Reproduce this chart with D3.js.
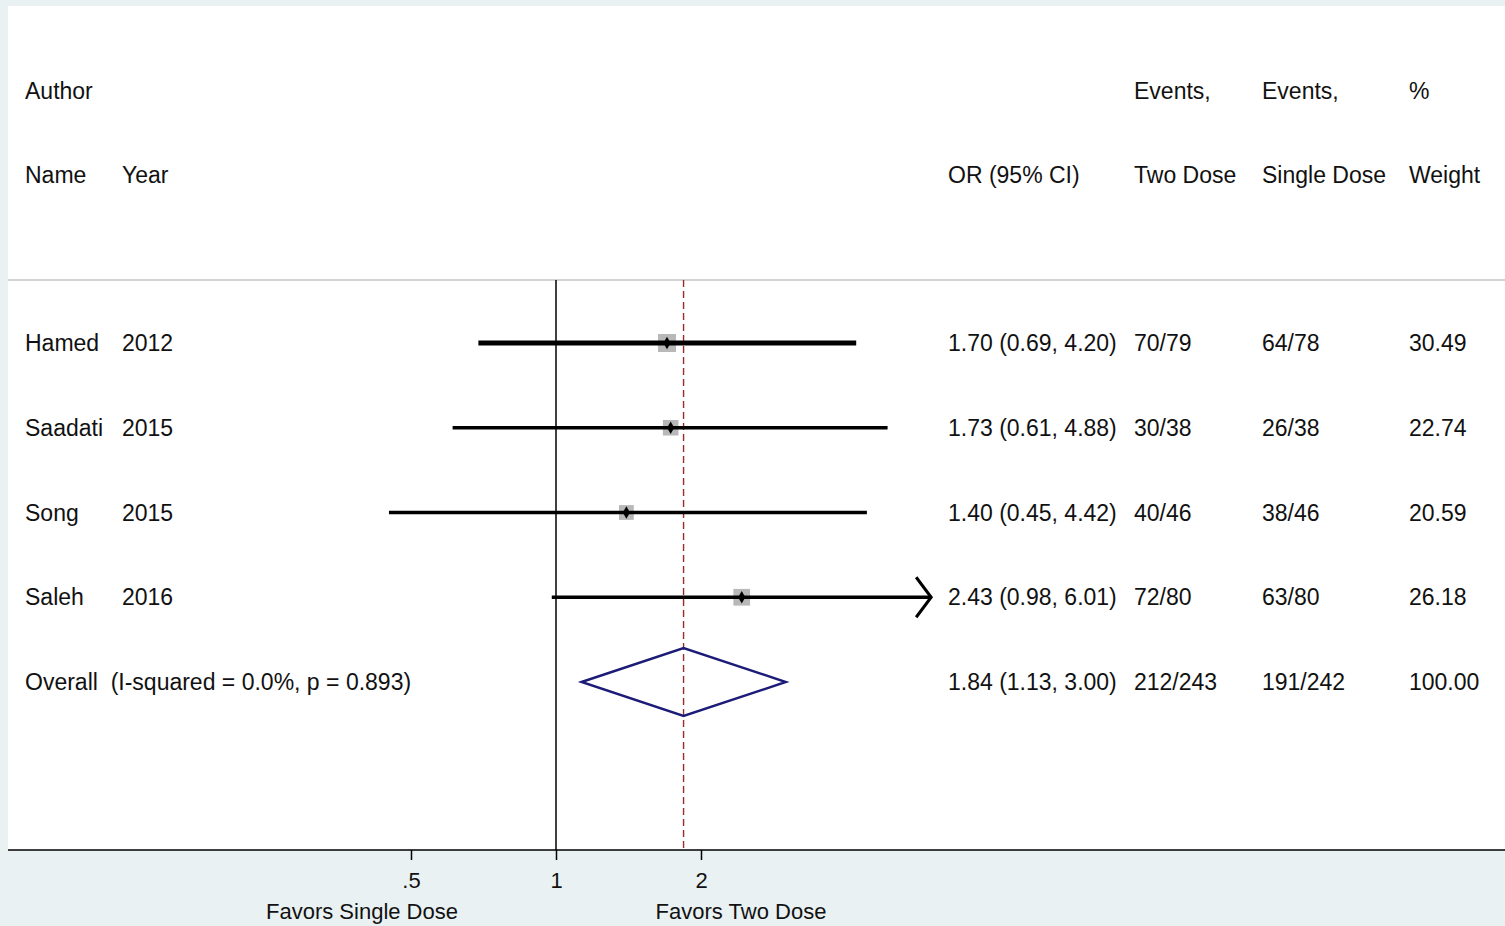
<!DOCTYPE html>
<html>
<head>
<meta charset="utf-8">
<script src="https://cdn.jsdelivr.net/npm/d3@7"></script>
<style>
  body { margin: 0; background: #e9f1f3; }
  svg { display: block; font-family: "Liberation Sans", Arial, sans-serif; }
</style>
</head>
<body>
<div id="chart"></div>
<script>
// Data
const authors = ['Hamed', 'Saadati', 'Song', 'Saleh']
const years = ['2012', '2015', '2015', '2016']
const orVals = [1.70, 1.73, 1.40, 2.43]
const ciLow = [0.69, 0.61, 0.45, 0.98]
const ciHigh = [4.20, 4.88, 4.42, 6.01]
const eventsTwo = ['70/79', '30/38', '40/46', '72/80']
const eventsSingle = ['64/78', '26/38', '38/46', '63/80']
const weights = [30.49, 22.74, 20.59, 26.18]
const overall = { or: 1.84, lo: 1.13, hi: 3.00, two: '212/243', single: '191/242', weight: 100.00, i2: '0.0%', p: '0.893' }
const tickVals = [0.5, 1, 2]
const tickLabels = ['.5', '1', '2']
const xMax = 6.01 // right end of the plot range, wider CIs get an arrow

const width = 1505, height = 926
const panel = { left: 8, top: 6, right: 1505, bottom: 850 }
const headerLine = 280
const textColor = '#111'
const fontSize = 23

const svg = d3.select('#chart').append('svg')
  .attr('width', width)
  .attr('height', height)

svg.append('rect')
  .attr('x', panel.left).attr('y', panel.top)
  .attr('width', panel.right - panel.left)
  .attr('height', panel.bottom - panel.top)
  .attr('fill', '#fff')

// Scales
const xScale = d3.scaleLog().domain([0.5, 2]).range([411, 701])
const rows = d3.range(authors.length + 1)
const yScale = d3.scalePoint().domain(rows).range([343, 682])

// Header
const cols = { name: 25, year: 122, or: 948, two: 1134, single: 1262, weight: 1409 }
const header1 = [['Author', cols.name], ['Events,', cols.two], ['Events,', cols.single], ['%', cols.weight]]
const header2 = [['Name', cols.name], ['Year', cols.year], ['OR (95% CI)', cols.or], ['Two Dose', cols.two], ['Single Dose', cols.single], ['Weight', cols.weight]]

const hdr = svg.append('g').attr('fill', textColor).attr('font-size', fontSize)
hdr.selectAll('.h1').data(header1).join('text')
  .attr('x', d => d[1]).attr('y', 91).attr('dy', '0.35em').text(d => d[0])
hdr.selectAll('.h2').data(header2).join('text')
  .attr('x', d => d[1]).attr('y', 175).attr('dy', '0.35em').text(d => d[0])

svg.append('line')
  .attr('x1', panel.left).attr('x2', panel.right)
  .attr('y1', headerLine).attr('y2', headerLine)
  .attr('stroke', '#c4c4c4').attr('stroke-width', 1.5)

// Null line and overall line
svg.append('line')
  .attr('x1', xScale(1)).attr('x2', xScale(1))
  .attr('y1', headerLine).attr('y2', panel.bottom)
  .attr('stroke', '#000').attr('stroke-width', 1.5)

svg.append('line')
  .attr('x1', xScale(overall.or)).attr('x2', xScale(overall.or))
  .attr('y1', headerLine).attr('y2', panel.bottom)
  .attr('stroke', '#9b2a2a').attr('stroke-width', 1.4)
  .attr('stroke-dasharray', '7,4')

// Study rows
const studies = authors.map((a, i) => ({
  author: a, year: years[i], or: orVals[i], lo: ciLow[i], hi: ciHigh[i],
  two: eventsTwo[i], single: eventsSingle[i], weight: weights[i], row: i
}))

const boxScale = d3.scaleSqrt().domain([0, d3.max(weights)]).range([0, 18])
const boxSide = d => boxScale(d.weight)

const g = svg.append('g')

g.selectAll('.box').data(studies).join('rect')
  .attr('x', d => xScale(d.or) - boxSide(d) / 2)
  .attr('y', d => yScale(d.row) - boxSide(d) / 2)
  .attr('width', boxSide).attr('height', boxSide)
  .attr('fill', '#b8b8b8')

g.selectAll('.ci').data(studies).join('line')
  .attr('x1', d => xScale(d.lo))
  .attr('x2', d => xScale(Math.min(d.hi, xMax)))
  .attr('y1', d => yScale(d.row)).attr('y2', d => yScale(d.row))
  .attr('stroke', '#000')
  .attr('stroke-width', d => d.row === 0 ? 5 : 3.4)

// arrow for CIs reaching the plot edge
g.selectAll('.arrow').data(studies.filter(d => d.hi >= xMax)).join('path')
  .attr('d', d => {
    const x = xScale(xMax), y = yScale(d.row)
    return `M${x - 15},${y - 20}L${x},${y}L${x - 15},${y + 20}`
  })
  .attr('fill', 'none').attr('stroke', '#000').attr('stroke-width', 3)

g.selectAll('.dot').data(studies).join('path')
  .attr('d', d3.symbol(d3.symbolDiamond, 45))
  .attr('transform', d => `translate(${xScale(d.or)},${yScale(d.row)})`)
  .attr('fill', '#000')

// Overall diamond
const oy = yScale(authors.length)
svg.append('path')
  .attr('d', `M${xScale(overall.lo)},${oy}L${xScale(overall.or)},${oy - 34}L${xScale(overall.hi)},${oy}L${xScale(overall.or)},${oy + 34}Z`)
  .attr('fill', 'none').attr('stroke', '#1c1c78').attr('stroke-width', 2.4)

// Row texts
const fmt = d3.format('.2f')
const txt = svg.append('g').attr('fill', textColor).attr('font-size', fontSize)
const cells = []
studies.forEach(d => {
  const y = yScale(d.row)
  cells.push([d.author, cols.name, y], [d.year, cols.year, y],
    [`${fmt(d.or)} (${fmt(d.lo)}, ${fmt(d.hi)})`, cols.or, y],
    [d.two, cols.two, y], [d.single, cols.single, y], [fmt(d.weight), cols.weight, y])
})
cells.push([`Overall  (I-squared = ${overall.i2}, p = ${overall.p})`, cols.name, oy],
  [`${fmt(overall.or)} (${fmt(overall.lo)}, ${fmt(overall.hi)})`, cols.or, oy],
  [overall.two, cols.two, oy], [overall.single, cols.single, oy], [fmt(overall.weight), cols.weight, oy])

txt.selectAll('text').data(cells).join('text')
  .attr('x', d => d[1]).attr('y', d => d[2]).attr('dy', '0.35em')
  .attr('xml:space', 'preserve')
  .text(d => d[0])

// Axis
const xAxis = d3.axisBottom(xScale)
  .tickValues(tickVals)
  .tickFormat((d, i) => tickLabels[i])
  .tickSize(10)
  .tickPadding(12)

const axisG = svg.append('g')
  .attr('transform', `translate(0, ${panel.bottom})`)
  .call(xAxis)
axisG.select('.domain').remove()
axisG.selectAll('.tick line').attr('stroke', '#000').attr('stroke-width', 1.5)
axisG.selectAll('.tick text')
  .attr('fill', textColor).attr('font-size', 22)
  .attr('font-family', '"Liberation Sans", Arial, sans-serif')

svg.append('line')
  .attr('x1', panel.left).attr('x2', panel.right)
  .attr('y1', panel.bottom).attr('y2', panel.bottom)
  .attr('stroke', '#000').attr('stroke-width', 1.5)

svg.append('g').attr('fill', textColor).attr('font-size', 22)
  .attr('text-anchor', 'middle')
  .selectAll('text')
  .data([['Favors Single Dose', 362], ['Favors Two Dose', 741]])
  .join('text')
  .attr('x', d => d[1]).attr('y', 911).attr('dy', '0.35em')
  .text(d => d[0])
</script>
</body>
</html>
